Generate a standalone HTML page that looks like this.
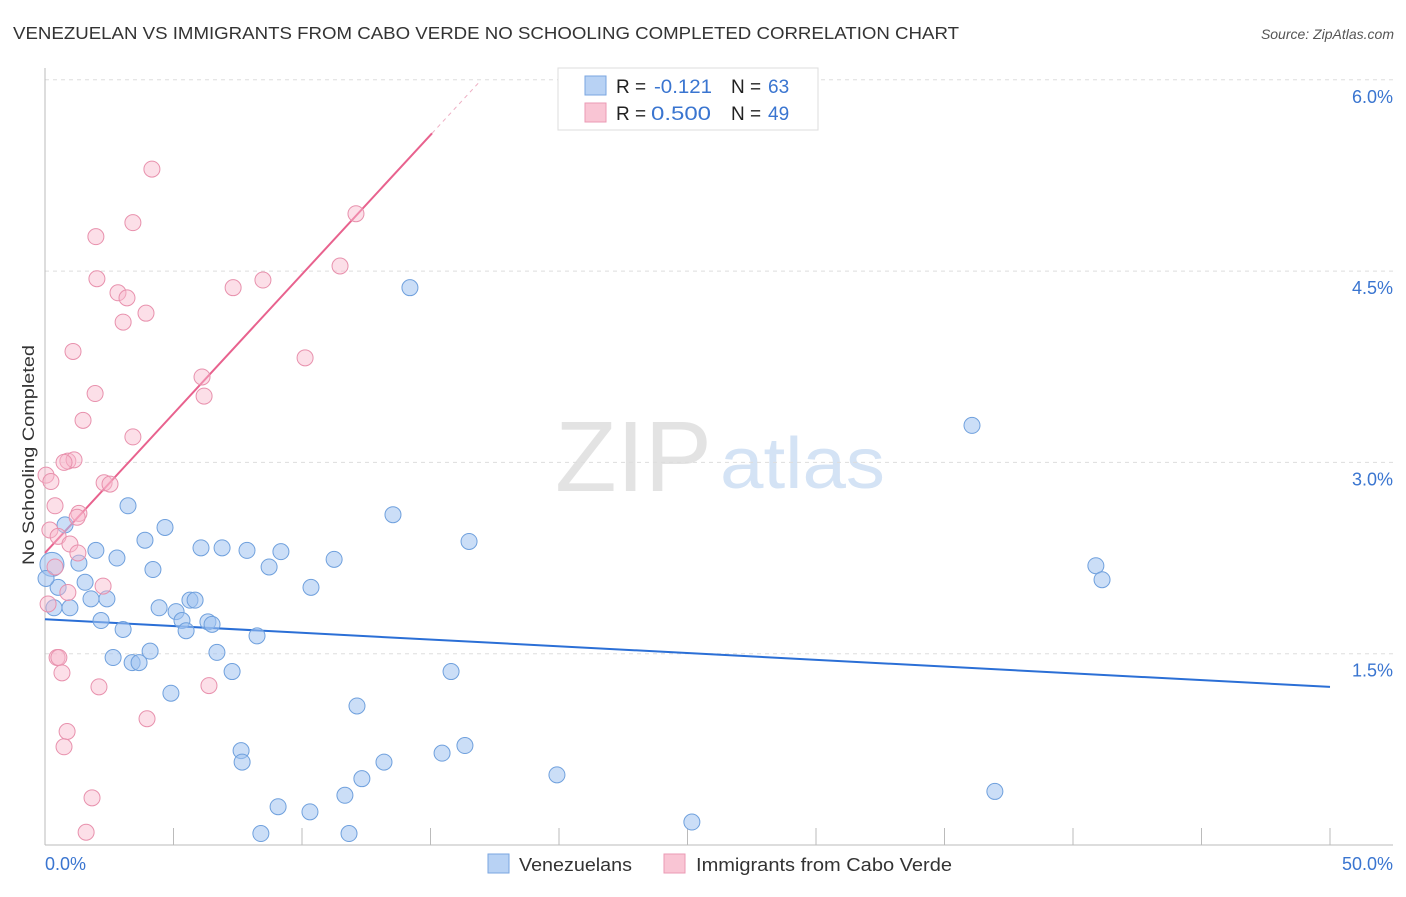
<!DOCTYPE html>
<html><head><meta charset="utf-8"><style>
body{margin:0;background:#fff;font-family:"Liberation Sans",sans-serif;}
svg text{font-family:"Liberation Sans",sans-serif;}
</style></head><body>
<svg id="chart" width="1406" height="892" xmlns="http://www.w3.org/2000/svg">
<text x="13" y="39" font-size="17.5" fill="#333" textLength="946" lengthAdjust="spacingAndGlyphs">VENEZUELAN VS IMMIGRANTS FROM CABO VERDE NO SCHOOLING COMPLETED CORRELATION CHART</text>
<text x="1394" y="39" font-size="14" fill="#555" font-style="italic" text-anchor="end">Source: ZipAtlas.com</text>
<text transform="translate(34,455) rotate(-90)" font-size="17" fill="#333" text-anchor="middle" textLength="220" lengthAdjust="spacingAndGlyphs">No Schooling Completed</text>
<g>
<text x="555" y="491" font-size="100" fill="#e3e3e3" font-family="Liberation Serif,serif" textLength="157" lengthAdjust="spacingAndGlyphs">ZIP</text>
<text x="720" y="488" font-size="72" fill="#d4e3f5" textLength="165" lengthAdjust="spacingAndGlyphs">atlas</text>
</g>
<g id="grid"></g>
<g id="axes"></g>
<g id="lines"></g>
<g id="points"></g>
<g>
<rect x="558" y="68" width="260" height="62" fill="#fff" stroke="#ddd"/>
<rect x="585" y="76" width="21" height="19" fill="#b8d2f4" stroke="#7aa6e0"/>
<rect x="585" y="103" width="21" height="19" fill="#f9c5d4" stroke="#eb9ab4"/>
<text x="616" y="93" font-size="19" fill="#222">R = </text><text x="654" y="93" font-size="19" fill="#3a75d0" textLength="58" lengthAdjust="spacingAndGlyphs">-0.121</text>
<text x="731" y="93" font-size="19" fill="#222">N = </text><text x="768" y="93" font-size="19" fill="#3a75d0">63</text>
<text x="616" y="120" font-size="19" fill="#222">R = </text><text x="651" y="120" font-size="19" fill="#3a75d0" textLength="60" lengthAdjust="spacingAndGlyphs">0.500</text>
<text x="731" y="120" font-size="19" fill="#222">N = </text><text x="768" y="120" font-size="19" fill="#3a75d0">49</text>
</g>
<g>
<rect x="488" y="854" width="21" height="19" fill="#b8d2f4" stroke="#7aa6e0"/>
<text x="519" y="871" font-size="18.5" fill="#333" textLength="113" lengthAdjust="spacingAndGlyphs">Venezuelans</text>
<rect x="664" y="854" width="21" height="19" fill="#f9c5d4" stroke="#eb9ab4"/>
<text x="696" y="871" font-size="18.5" fill="#333" textLength="256" lengthAdjust="spacingAndGlyphs">Immigrants from Cabo Verde</text>
</g>
</svg>
<script>
const xTicks=[0,5,10,15,20,25,30,35,40,45,50];
const yTicks=[1.5,3.0,4.5,6.0];
const yTickLabels=["1.5%","3.0%","4.5%","6.0%"];
const venX=[14.20,36.07,40.89,41.13,13.54,16.50,3.23,4.67,0.78,3.89,1.98,2.80,1.32,4.20,6.07,6.89,7.86,9.18,8.72,11.25,10.35,1.56,0.51,1.79,2.41,0.97,0.35,4.44,5.10,5.64,5.84,5.33,5.49,6.34,6.50,2.18,3.04,8.25,6.69,4.09,2.65,3.39,3.66,7.28,15.80,4.90,12.14,7.63,7.67,13.19,15.45,16.34,19.92,12.33,11.67,36.96,9.07,10.31,25.17,8.40,11.83,0.27,0.04];
const venY=[4.37,3.29,2.19,2.08,2.59,2.38,2.66,2.49,2.51,2.39,2.31,2.25,2.21,2.16,2.33,2.33,2.31,2.30,2.18,2.24,2.02,2.06,2.02,1.93,1.93,1.86,1.86,1.86,1.83,1.92,1.92,1.76,1.68,1.75,1.73,1.76,1.69,1.64,1.51,1.52,1.47,1.43,1.43,1.36,1.36,1.19,1.09,0.74,0.65,0.65,0.72,0.78,0.55,0.52,0.39,0.42,0.30,0.26,0.18,0.09,0.09,2.20,2.09];
const cvX=[4.16,3.42,1.98,12.10,2.02,11.48,8.48,7.32,2.84,3.19,3.93,3.04,1.09,10.12,6.11,1.95,6.19,1.48,3.42,0.89,1.13,0.74,0.04,0.23,2.30,2.53,0.39,1.32,1.25,0.19,0.51,0.97,1.28,0.39,2.26,0.89,0.12,0.47,0.54,0.66,2.10,6.38,3.97,0.86,0.74,1.83,1.60];
const cvY=[5.30,4.88,4.77,4.95,4.44,4.54,4.43,4.37,4.33,4.29,4.17,4.10,3.87,3.82,3.67,3.54,3.52,3.33,3.20,3.01,3.02,3.00,2.90,2.85,2.84,2.83,2.66,2.60,2.57,2.47,2.42,2.36,2.29,2.18,2.03,1.98,1.89,1.47,1.47,1.35,1.24,1.25,0.99,0.89,0.77,0.37,0.10];
const venTrend=[1.77,-0.0106];
const cvTrend=[2.29,0.2185];
const NS="http://www.w3.org/2000/svg";
const X=v=>45+v/50*1285;
const Y=v=>845-v/1.5*191.3;
function mk(tag,attrs,parent){const e=document.createElementNS(NS,tag);for(const k in attrs)e.setAttribute(k,attrs[k]);document.getElementById(parent).appendChild(e);return e;}
yTicks.forEach((t,i)=>{
 const g=mk('line',{x1:45,x2:1393,y1:Y(t),y2:Y(t),stroke:'#ddd','stroke-dasharray':'4,4'},'grid');
 
 
 const l=mk('text',{x:1393,y:Y(t)+23,'font-size':18,fill:'#3a75d0','text-anchor':'end'},'grid');
 l.textContent=yTickLabels[i];
 
 
});
const ax=mk('line',{x1:45,x2:45,y1:68,y2:845,stroke:'#bbb'},'axes');


const bx=mk('line',{x1:45,x2:1393,y1:845,y2:845,stroke:'#bbb'},'axes');


xTicks.forEach(t=>{
 const k=mk('line',{x1:X(t),x2:X(t),y1:828,y2:845,stroke:'#bbb'},'axes');
 
 
});
const x0=mk('text',{x:45,y:870,'font-size':18,fill:'#3a75d0'},'axes');x0.textContent=xTicks[0].toFixed(1)+'%';


const x1=mk('text',{x:1393,y:870,'font-size':18,fill:'#3a75d0','text-anchor':'end'},'axes');x1.textContent=xTicks[xTicks.length-1].toFixed(1)+'%';


venX.forEach((v,i)=>{
 const c=mk('circle',{cx:X(v),cy:Y(venY[i]),r:i==61?12:8,fill:'rgba(160,195,240,0.55)',stroke:'#6fa0dd','stroke-width':1},'points');
 
 
});
cvX.forEach((v,i)=>{
 const c=mk('circle',{cx:X(v),cy:Y(cvY[i]),r:8,fill:'rgba(248,185,205,0.45)',stroke:'#e891ad','stroke-width':1},'points');
 
 
});
const vl=mk('line',{x1:X(0),y1:Y(venTrend[0]),x2:X(50),y2:Y(venTrend[0]+venTrend[1]*50),stroke:'#2b6fd6','stroke-width':2},'lines');


const cl=mk('line',{x1:X(0),y1:Y(cvTrend[0]),x2:X(15.06),y2:Y(cvTrend[0]+cvTrend[1]*15.06),stroke:'#e8628e','stroke-width':2},'lines');


const cd=mk('line',{x1:X(15.06),y1:Y(cvTrend[0]+cvTrend[1]*15.06),x2:X(16.93),y2:Y(cvTrend[0]+cvTrend[1]*16.93),stroke:'#eeb0c4','stroke-width':1,'stroke-dasharray':'4,4'},'lines');


</script>
</body></html>
